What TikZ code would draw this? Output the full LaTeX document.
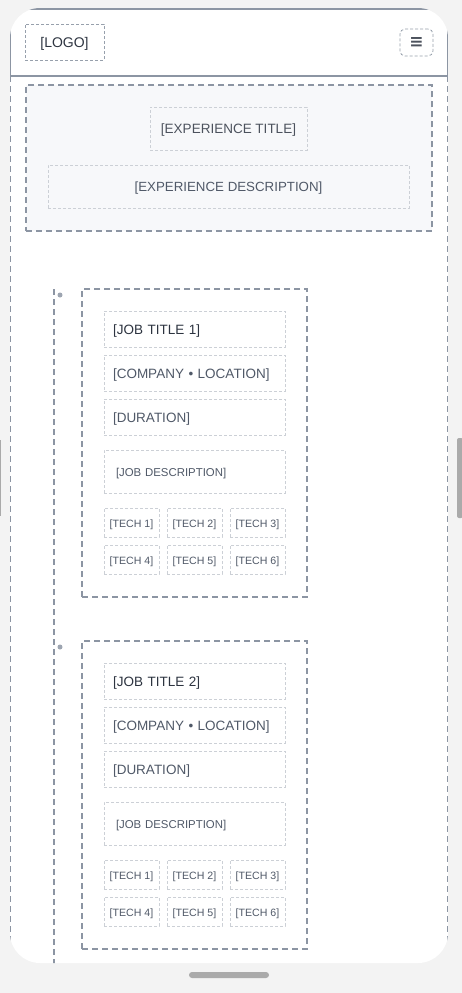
\documentclass[tikz,border=0pt]{standalone}
\usepackage{fontspec}
\setmainfont{Liberation Sans}
\newfontfamily\symfont{DejaVu Sans}
\usepackage{tikz}
\usetikzlibrary{positioning}
\definecolor{wfbg}{RGB}{243,243,243}
\definecolor{wfgrey}{RGB}{140,149,163}
\definecolor{wflight}{RGB}{204,208,214}
\definecolor{wfdark}{RGB}{45,52,64}
\definecolor{wftext}{RGB}{80,89,104}
\definecolor{wfpanel}{RGB}{247,248,250}
\definecolor{wfbar}{RGB}{170,170,170}
\tikzset{
  wfnode/.style = {inner sep=0pt, outer sep=0pt, text height=1.03em,
    text depth=0pt, font=\fontsize{13.5}{16}\selectfont, text=wftext},
  wf_box/.style = {wfnode, rectangle, draw=wflight, line width=0.8pt,
    dash pattern=on 3pt off 2pt},% boite pointillee claire
  wf_line/.style = {wf_box, anchor=north west, inner xsep=9pt,
    text width=163pt, align=left, minimum height=36pt},% ligne de texte
  wf_desc/.style = {wf_box, anchor=north west, inner xsep=12pt,
    text width=157pt, align=left, minimum height=43pt,
    font=\fontsize{11.4}{14}\selectfont},% description
  wf_tag/.style = {wf_box, anchor=north west, minimum width=55pt,
    minimum height=29pt, font=\fontsize{10.6}{13}\selectfont},% technologie
  wf_card/.style = {rectangle, anchor=north west, outer sep=0pt, draw=wfgrey,
    line width=1.6pt, dash pattern=on 6pt off 4pt},% carte
  wf_dash/.style = {draw=wfgrey, line width=1.6pt,
    dash pattern=on 6pt off 4pt},% bord pointille
  wf_dot/.style = {circle, fill=wfgrey!85, inner sep=0pt,
    minimum size=5pt}% point de la frise
}

\begin{document}
\begin{tikzpicture}[x=1pt,y=-1pt]
        \useasboundingbox (0,0) rectangle (462,993);
        \fill[wfbg] (0,0) rectangle (462,993);
        \fill[white, rounded corners=30pt] (10,8) rectangle (448,963);
        \begin{scope}
        \clip[rounded corners=30pt] (10,8) rectangle (448,963);
        % en-tete
        \draw[draw=wfgrey, line width=2pt] (10,9) rectangle (448,76);
        \draw[wf_dash] (10,76) -- (10,963);
        \draw[wf_dash] (448,76) -- (448,963);
        \node [wfnode, anchor=north west, draw=wfgrey!90, line width=0.8pt,
          dash pattern=on 3pt off 2pt, minimum width=79pt, minimum height=36pt,
          font=\fontsize{14}{16}\selectfont, text=wfdark](logo) at (25,24) {[LOGO]};
        \node [wfnode, anchor=north west, draw=wfgrey!90, line width=0.8pt,
          dash pattern=on 3pt off 2pt, rounded corners=5pt, minimum width=33pt,
          minimum height=27pt, text=wfdark!85, text height=0.9em,
          font=\fontsize{17}{18}\selectfont](menu) at (400,29) {\symfont\bfseries ≡};
        % experience
        \node [wf_card, fill=wfpanel, minimum width=406pt, minimum height=146pt](exp) at (26,85) {};
        \node [wf_box, anchor=north west, minimum width=157pt, minimum height=43pt,
          text=wfdark!85](expTitle) at (150,107) {[EXPERIENCE TITLE]};
        \node [wf_box, anchor=north west, minimum width=361pt, minimum height=43pt,
          font=\fontsize{13.3}{16}\selectfont](expDesc) at (48,165) {[EXPERIENCE DESCRIPTION]};
        % frise
        \coordinate (tlTop) at (54,289);
        \coordinate (tlBot) at (54,966);
        \draw[wf_dash] (tlTop) -- (tlBot);
        \node [wf_dot](dot1) at (60,295) {};
        \node [wf_dot](dot2) at (60,647) {};
        % poste 1
        \node [wf_card, minimum width=225pt, minimum height=308pt](card1) at (82,289) {};
        \node [wf_line, text=wfdark](title1) at (104,311) {[JOB TITLE 1]};
        \node [wf_line, below=8pt of title1.south west, anchor=north west](company1) {[COMPANY • LOCATION]};
        \node [wf_line, below=8pt of company1.south west, anchor=north west](duration1) {[DURATION]};
        \node [wf_desc, below=15pt of duration1.south west, anchor=north west](desc1) {[JOB DESCRIPTION]};
        \node [wf_tag, below=15pt of desc1.south west, anchor=north west](techA1) {[TECH 1]};
        \node [wf_tag, right=8pt of techA1.north east, anchor=north west](techB1) {[TECH 2]};
        \node [wf_tag, right=8pt of techB1.north east, anchor=north west](techC1) {[TECH 3]};
        \node [wf_tag, below=8pt of techA1.south west, anchor=north west](techD1) {[TECH 4]};
        \node [wf_tag, right=8pt of techD1.north east, anchor=north west](techE1) {[TECH 5]};
        \node [wf_tag, right=8pt of techE1.north east, anchor=north west](techF1) {[TECH 6]};
        % poste 2
        \node [wf_card, minimum width=225pt, minimum height=308pt](card2) at (82,641) {};
        \node [wf_line, text=wfdark](title2) at (104,663) {[JOB TITLE 2]};
        \node [wf_line, below=8pt of title2.south west, anchor=north west](company2) {[COMPANY • LOCATION]};
        \node [wf_line, below=8pt of company2.south west, anchor=north west](duration2) {[DURATION]};
        \node [wf_desc, below=15pt of duration2.south west, anchor=north west](desc2) {[JOB DESCRIPTION]};
        \node [wf_tag, below=15pt of desc2.south west, anchor=north west](techA2) {[TECH 1]};
        \node [wf_tag, right=8pt of techA2.north east, anchor=north west](techB2) {[TECH 2]};
        \node [wf_tag, right=8pt of techB2.north east, anchor=north west](techC2) {[TECH 3]};
        \node [wf_tag, below=8pt of techA2.south west, anchor=north west](techD2) {[TECH 4]};
        \node [wf_tag, right=8pt of techD2.north east, anchor=north west](techE2) {[TECH 5]};
        \node [wf_tag, right=8pt of techE2.north east, anchor=north west](techF2) {[TECH 6]};
        \end{scope}
        % barres de defilement
        \fill[wfbar, rounded corners=2pt] (457,438) rectangle (463,518);
        \fill[wfbar] (0,440) rectangle (1,516);
        \fill[wfbar, rounded corners=3pt] (189,972) rectangle (269,978);
        \end{tikzpicture}
\end{document}
